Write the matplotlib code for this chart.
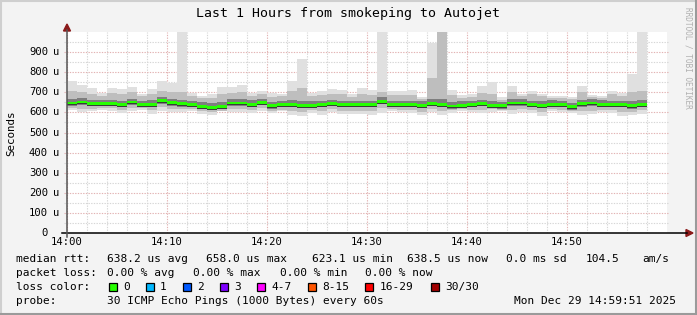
import numpy as np
import matplotlib; matplotlib.use("Agg")
import matplotlib.pyplot as plt
import matplotlib.transforms as mtrans

# minutes after 14:00, one smoke bar per minute
minutes = list(range(58))
# values in microseconds
rtt_med = [647, 652, 645, 645, 645, 640, 652, 641, 641, 658, 648, 643, 640, 630, 623,
           630, 647, 647, 641, 650, 633, 640, 640, 636, 636, 640, 645, 640, 640, 640,
           640, 656, 640, 640, 640, 636, 645, 640, 632, 636, 640, 645, 636, 633, 647,
           647, 640, 636, 641, 640, 628, 643, 647, 641, 640, 640, 633, 638]
rtt_max = [755, 738, 721, 697, 721, 716, 726, 693, 716, 755, 744, 1050, 697, 684, 693,
           726, 726, 738, 697, 708, 697, 693, 758, 866, 697, 705, 716, 713, 692, 721,
           710, 1050, 705, 705, 710, 677, 945, 1100, 710, 685, 692, 729, 750, 675, 729,
           692, 705, 692, 684, 680, 677, 733, 689, 680, 705, 697, 793, 1050]
rtt_hi1 = [705, 700, 690, 680, 695, 690, 700, 680, 690, 705, 700, 700, 680, 670, 670,
           690, 695, 700, 680, 690, 675, 680, 705, 720, 680, 685, 690, 690, 675, 690,
           685, 700, 685, 685, 685, 665, 770, 1100, 685, 670, 675, 695, 690, 660, 700,
           680, 690, 680, 670, 670, 665, 700, 675, 670, 690, 680, 700, 705]
rtt_hi2 = [665, 670, 662, 660, 662, 658, 668, 658, 660, 675, 665, 662, 658, 650, 645,
           650, 665, 665, 660, 668, 652, 658, 660, 655, 655, 658, 662, 658, 658, 658,
           658, 675, 658, 658, 658, 655, 665, 665, 652, 655, 658, 662, 655, 652, 665,
           665, 658, 655, 660, 658, 648, 662, 665, 660, 658, 658, 655, 662]
rtt_lo2 = [632, 637, 630, 630, 630, 625, 637, 626, 626, 643, 633, 628, 625, 615, 610,
           615, 632, 632, 626, 635, 618, 625, 625, 621, 621, 625, 630, 625, 625, 625,
           625, 645, 625, 625, 625, 621, 630, 625, 617, 621, 625, 630, 621, 618, 632,
           632, 625, 621, 626, 625, 613, 628, 632, 626, 625, 625, 618, 628]
rtt_lo1 = [622, 615, 618, 622, 620, 612, 620, 620, 610, 625, 618, 615, 615, 605, 600,
           608, 618, 615, 612, 620, 605, 612, 605, 600, 610, 605, 615, 608, 608, 608,
           605, 620, 615, 612, 612, 600, 615, 605, 610, 615, 612, 612, 615, 610, 610,
           615, 610, 600, 615, 612, 605, 605, 608, 612, 610, 600, 603, 610]
rtt_min = [613, 600, 605, 613, 608, 597, 608, 613, 592, 605, 600, 600, 605, 592, 587,
           605, 602, 602, 597, 605, 597, 605, 586, 581, 597, 586, 602, 594, 592, 592,
           586, 597, 605, 602, 597, 586, 602, 586, 597, 605, 602, 597, 602, 605, 592,
           602, 597, 581, 605, 602, 597, 586, 592, 602, 597, 581, 586, 592]

xtick_pos = [0, 10, 20, 30, 40, 50]
xtick_lab = ["14:00", "14:10", "14:20", "14:30", "14:40", "14:50"]
ytick_pos = [0, 100, 200, 300, 400, 500, 600, 700, 800, 900]

loss_labels = ["0", "1", "2", "3", "4-7", "8-15", "16-29", "30/30"]
loss_colors = ["#26ff00", "#00b8ff", "#0059ff", "#7e00ff", "#ff00ff", "#ff5500",
               "#ff0000", "#a10000"]

W, H = 697, 315
MONO = "DejaVu Sans Mono"
BG = "#f3f3f3"


def fx(px):
    return px / W


def fy(py):
    return 1 - py / H


fig = plt.figure(figsize=(W / 100, H / 100), dpi=100, facecolor=BG)
ax = fig.add_axes([fx(67), fy(233), fx(600), 201 / H])
ax.set_facecolor("white")
ax.set_xlim(0, 60); ax.set_ylim(0, 1000)
for s in ax.spines.values():
    s.set_visible(False)

# grid (rrdtool style dotted)
for m in range(0, 60, 2):
    c = "#e2b3b3" if m % 10 == 0 else "#d6d6d6"
    ax.axvline(m, color=c, lw=0.8, ls=(0, (1.2, 1.2)), zorder=0)
for v in range(50, 1000, 50):
    c = "#e2b3b3" if v % 100 == 0 else "#d6d6d6"
    ax.plot([-0.3, 60.1], [v, v], color=c, lw=0.8, ls=(0, (1.2, 1.2)), zorder=0,
            clip_on=False)

# smoke
x = np.array(minutes)
mx, hi1, hi2 = np.array(rtt_max), np.array(rtt_hi1), np.array(rtt_hi2)
lo2, lo1, mn = np.array(rtt_lo2), np.array(rtt_lo1), np.array(rtt_min)
med = np.array(rtt_med)
ax.bar(x, mx - mn, bottom=mn, width=1, align="edge", color="#e0e0e0", lw=0, zorder=2)
ax.bar(x, hi1 - lo1, bottom=lo1, width=1, align="edge", color="#bebebe", lw=0, zorder=3)
ax.bar(x, hi2 - lo2, bottom=lo2, width=1, align="edge", color="#7e7e7e", lw=0, zorder=4)
ax.bar(x, 16, bottom=med - 12, width=1, align="edge", color="#3a3a3a", lw=0, zorder=5)
ax.bar(x, 14, bottom=med - 7, width=1, align="edge", color=loss_colors[0], lw=0, zorder=6)

# axes lines with arrows
ax.set_xticks([]); ax.set_yticks([])
fig.add_artist(plt.Line2D([fx(62), fx(687)], [fy(233), fy(233)], color="black", lw=1.1))
fig.add_artist(plt.Line2D([fx(67), fx(67)], [fy(237), fy(30)], color="#555555", lw=1.1))
fig.add_artist(plt.Polygon([[fx(686), fy(229.5)], [fx(693), fy(233)], [fx(686), fy(236.5)]],
                           closed=True, color="#8b1a1a", transform=fig.transFigure))
fig.add_artist(plt.Polygon([[fx(63.5), fy(31)], [fx(67), fy(24)], [fx(70.5), fy(31)]],
                           closed=True, color="#8b1a1a", transform=fig.transFigure))

# tick labels
tr = mtrans.blended_transform_factory(fig.transFigure, ax.transData)
for v in ytick_pos:
    ax.text(fx(48), v, f"{v}" if v else "0", transform=tr, ha="right", va="center",
            fontsize=7.6, family=MONO)
    if v:
        ax.text(fx(53), v, "u", transform=tr, ha="left", va="center",
                fontsize=7.6, family=MONO)
trx = mtrans.blended_transform_factory(ax.transData, fig.transFigure)
for p, lab in zip(xtick_pos, xtick_lab):
    ax.text(p, fy(242), lab, transform=trx, ha="center", va="center",
            fontsize=7.6, family=MONO)

fig.text(fx(11), fy(133), "Seconds", rotation=90, ha="center", va="center",
         fontsize=7.8, family=MONO)
fig.text(fx(348), fy(13), "Last 1 Hours from smokeping to Autojet", ha="center",
         va="center", fontsize=9.5, family=MONO)
fig.text(fx(688), fy(58), "RRDTOOL / TOBI OETIKER", rotation=-90, ha="center",
         va="center", fontsize=5.6, family=MONO, color="#b0b0b0")

# legend / stats
LS = 8.0
rows = [
    (259, [(16, "median rtt:"), (107, "638.2 us avg"), (206.5, "658.0 us max"),
           (311.5, "623.1 us min"), (407, "638.5 us now"), (506.5, "0.0 ms sd"),
           (586, "104.5"), (642.5, "am/s")]),
    (273, [(16, "packet loss:"), (107, "0.00 % avg"), (193.5, "0.00 % max"),
           (279.5, "0.00 % min"), (365, "0.00 % now")]),
    (287, [(16, "loss color:")]),
    (300.5, [(16, "probe:"), (107, "30 ICMP Echo Pings (1000 Bytes) every 60s"),
             (513.5, "Mon Dec 29 14:59:51 2025")]),
]
for yy, segs in rows:
    for xx, s in segs:
        fig.text(fx(xx), fy(yy), s, ha="left", va="center", fontsize=LS, family=MONO)

box_x = [108.5, 145.5, 182.5, 219.5, 256.5, 307.5, 365, 431]
for bx, lab, col in zip(box_x, loss_labels, loss_colors):
    fig.add_artist(plt.Rectangle((fx(bx), fy(291)), fx(8), 8 / H, facecolor=col,
                                 edgecolor="black", lw=0.9, transform=fig.transFigure))
    fig.text(fx(bx + 14.5), fy(287), lab, ha="left", va="center", fontsize=LS, family=MONO)

# frame (3d look)
fig.add_artist(plt.Line2D([fx(0.5), fx(0.5)], [0, 1], color="#cfcfcf", lw=1.5))
fig.add_artist(plt.Line2D([0, 1], [fy(0.5), fy(0.5)], color="#cfcfcf", lw=1.5))
fig.add_artist(plt.Line2D([fx(695.5), fx(695.5)], [0, 1], color="#9a9a9a", lw=1.5))
fig.add_artist(plt.Line2D([0, 1], [fy(313.5), fy(313.5)], color="#9a9a9a", lw=1.5))

fig.savefig("out.png", dpi=100, facecolor=BG)
